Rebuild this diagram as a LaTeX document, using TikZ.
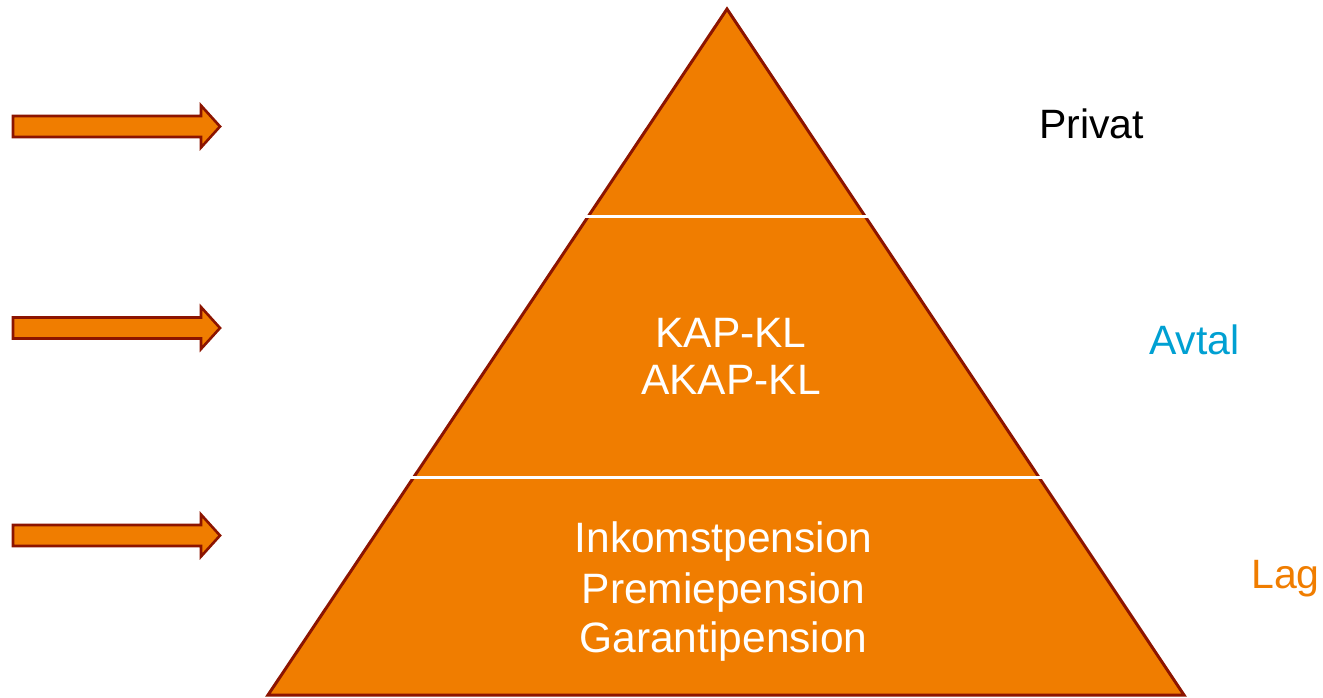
\documentclass[tikz,border=0pt]{standalone}
\usepackage{fontspec}
\setmainfont{Liberation Sans}
\definecolor{pyrorange}{RGB}{240,125,0}
\definecolor{pyrborder}{RGB}{140,20,0}
\definecolor{avtalblue}{RGB}{0,160,210}
\tikzset{
  pyrshape/.style={fill=pyrorange, draw=pyrborder, line width=3pt, line join=miter},
  sepline/.style={draw=white, line width=3pt},
  arrowshape/.style={fill=pyrorange, draw=pyrborder, line width=2.6pt, line join=miter},
  intext/.style={text=white, font=\fontsize{42.5}{48}\selectfont, inner sep=0pt, anchor=base},
  sidetext/.style={font=\fontsize{41}{46}\selectfont, inner sep=0pt, anchor=base west},
}
\begin{document}
\begin{tikzpicture}[x=1pt,y=-1pt]
\useasboundingbox (0,0) rectangle (1323,697);
% pyramid
\draw[pyrshape] (727,9) -- (1184,695) -- (268,695) -- cycle;
\draw[sepline] (580,216) -- (875,216);
\draw[sepline] (405,477) -- (1050,477);
% arrows
\foreach \yc in {126.5,328,535.5}{
  \draw[arrowshape] (13,\yc-10.5) -- (201,\yc-10.5) -- (201,\yc-21) -- (220,\yc)
    -- (201,\yc+21) -- (201,\yc+10.5) -- (13,\yc+10.5) -- cycle;
}
% inner texts
\node[intext] (kap) at (731,347) {KAP-KL};
\node[intext] (akap) at (731,394) {AKAP-KL};
\node[intext] (inkomst) at (723.5,552) {Inkomstpension};
\node[intext] (premie) at (723.5,603) {Premiepension};
\node[intext] (garanti) at (723.5,652) {Garantipension};
% side labels
\node[sidetext, text=black] (privat) at (1039,138) {Privat};
\node[sidetext, text=avtalblue] (avtal) at (1149,354) {Avtal};
\node[sidetext, text=pyrorange] (lag) at (1251,588) {Lag};
\end{tikzpicture}
\end{document}
